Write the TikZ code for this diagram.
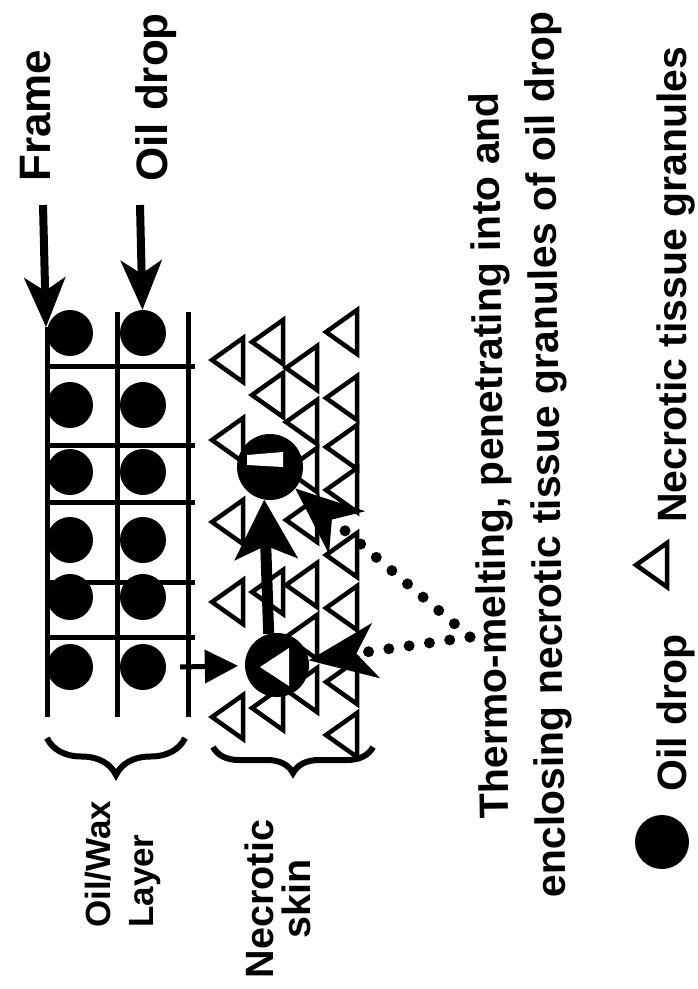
\documentclass[tikz,border=0pt]{standalone}
\usepackage{fontspec}
\setmainfont{Liberation Sans}
\usetikzlibrary{arrows.meta,decorations.pathreplacing}

% Dreieck fuer ein nekrotisches Gewebekorn
\tikzset{
  granulat/.pic={\draw[line width=4.5pt, line join=miter] (15,-22) -- (-16,0) -- (15,22) -- cycle;}
}

\begin{document}
\begin{tikzpicture}[x=1pt, y=-1pt,
    gitter/.style={line width=5pt},
    tropfen/.style={circle, fill=black, inner sep=0pt, minimum size=46pt},
    beschriftung/.style={rotate=90, inner sep=0pt, font=\bfseries\fontsize{41}{56}\selectfont},
    zeiger/.style={line width=8pt, -{Stealth[length=50pt, width=42pt, inset=14pt, line width=0pt]}},
    dickpfeil/.style={line width=11pt, -{Stealth[length=60pt, width=64pt, inset=14pt, line width=0pt]}},
    kleinpfeil/.style={line width=5pt, -{Triangle[length=33pt, width=34pt, line width=0pt]}},
    punktpfeil/.style={line width=11pt, line cap=round, dash pattern=on 0pt off 20.5pt,
      -{Stealth[length=68pt, width=56pt, inset=20pt, line width=0pt]}},
    klammer/.style={line width=6pt, decorate, decoration={brace, amplitude=#1}}]
  \useasboundingbox (0,0) rectangle (698,989);
  %\draw [lightgray](0,0) grid[step=50] (698,989);

  % Zeichnet die Beschriftungen oben
  \node[beschriftung, font=\bfseries\fontsize{44}{44}\selectfont, anchor=base west] (frame) at (50,182) {Frame};
  \node[beschriftung, font=\bfseries\fontsize{44}{44}\selectfont, anchor=base west] (oeltext) at (167,182) {Oil drop};

  % Zeichnet das Gitter der Oel/Wachs-Schicht
  \draw[gitter] (47,327) -- (47,717);
  \draw[gitter] (117,312) -- (117,717);
  \draw[gitter] (188,312) -- (188,717);
  \foreach \y in {366,445,502,582,637}
    \draw[gitter] (47,\y) -- (195,\y);

  % Zeichnet die Oeltropfen im Gitter
  \foreach \y [count=\i] in {333,405,472,540,597,667} {
    \node[tropfen] (da\i) at (70,\y) {};
    \node[tropfen] (db\i) at (143,\y) {};
  }

  % Zeichnet die Pfeile von den Beschriftungen
  \coordinate (rahmenanfang) at (43,205);
  \coordinate (rahmenecke) at (46,327);
  \coordinate (oelanfang) at (140,205);
  \draw[zeiger] (rahmenanfang) -- (rahmenecke);
  \draw[zeiger] (oelanfang) -- (db1);

  % Zeichnet die nekrotischen Gewebekoerner
  \foreach \x/\y in {228/360, 228/440, 228/522, 228/602, 228/717,
                     268/342, 268/395, 268/592, 268/708,
                     302/368, 302/422, 302/470, 302/520, 302/585, 302/637, 302/690,
                     342/332, 342/398, 342/447, 342/490, 342/555, 342/608, 342/682, 342/735}
    \pic at (\x,\y) {granulat};

  % Zeichnet die Oeltropfen in der Haut
  \node[tropfen, minimum size=66pt] (obertropfen) at (270,467) {};
  \node[tropfen, minimum size=64pt] (untertropfen) at (277,665) {};
  \fill[white] (247,455) -- (283,452) -- (283,467) -- (247,465) -- cycle;
  \fill[white] (260,667) -- (289,648) -- (289,686) -- cycle;

  % Zeichnet Pfeil vom Gitter zum Tropfen und nach oben
  \coordinate (gitterrand) at (180,667);
  \draw[kleinpfeil, shorten >=7pt] (gitterrand) -- (untertropfen);
  \draw[dickpfeil] (untertropfen.105) -- (obertropfen.-100);

  % Zeichnet die Erklaerung mit den gepunkteten Pfeilen
  \node[beschriftung, rotate=0.8, align=center] (erklaerung) at (521,455)
    {Thermo-melting, penetrating into and\\enclosing necrotic tissue granules of oil drop};
  \coordinate (knoten) at (470,637);
  \draw[punktpfeil] (knoten) -- (untertropfen);
  \draw[punktpfeil] (knoten) -- (obertropfen);

  % Zeichnet die geschweiften Klammern
  \draw[klammer=37pt] (185,738) -- (47,738);
  \draw[klammer=26pt] (373,747) -- (213,747);
  \node[beschriftung, font=\bfseries\fontsize{35}{43}\selectfont, align=left, anchor=north west] (schichttext) at (85,928) {Oil/Wax\\Layer};
  \node[beschriftung, font=\bfseries\fontsize{39.5}{37}\selectfont, align=center, anchor=north] (hauttext) at (245,899) {Necrotic\\skin};

  % Zeichnet die Legende
  \node[tropfen, minimum size=54pt] (legendetropfen) at (662,842) {};
  \node[beschriftung, anchor=base west] (legendeoel) at (686,792) {Oil drop};
  \pic at (652,565) {granulat};
  \node[beschriftung, anchor=base west] (legendehaut) at (686,523) {Necrotic tissue granules};
\end{tikzpicture}
\end{document}
